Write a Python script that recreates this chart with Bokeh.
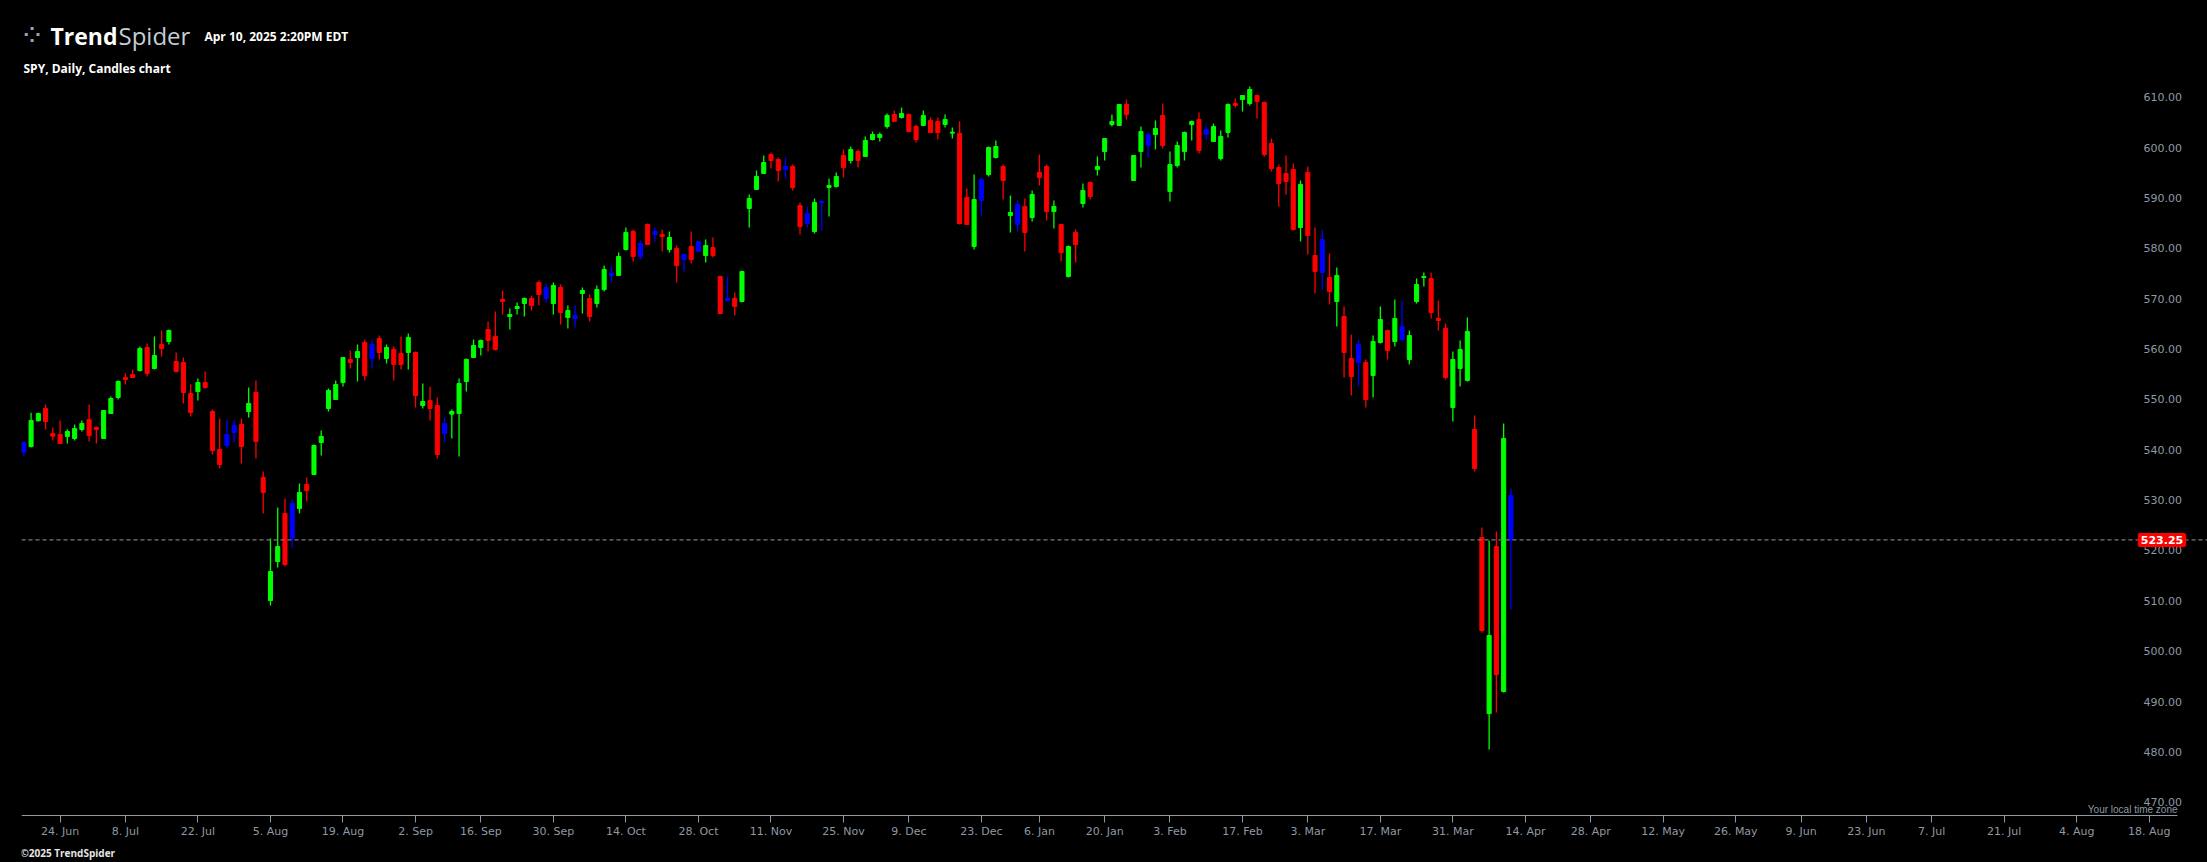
import numpy as np
import pandas as pd
from bokeh.plotting import figure
from bokeh.models import (Range1d, FixedTicker, Span, Label,
                          ColumnDataSource, GlobalInlineStyleSheet)
from bokeh.embed import file_html
from bokeh.resources import INLINE

# ---------------- data (SPY daily) ----------------
first_day = "2024-06-14"
holidays = ["2024-06-19", "2024-07-04", "2024-09-02", "2024-11-28", "2024-12-25",
            "2025-01-01", "2025-01-09", "2025-01-20", "2025-02-17", "2025-04-18",
            "2025-05-26", "2025-06-19", "2025-07-04"]

opens = [
    540.66, 541.80, 546.90, 549.34, 544.37,
    544.17, 543.78, 543.38, 545.17, 547.15,
    545.56, 543.38, 548.34, 551.52, 555.49,
    556.09, 556.88, 561.45, 557.28, 562.04,
    562.64, 558.67, 558.47, 552.31, 552.71,
    554.50, 548.74, 541.19, 541.99, 545.96,
    546.16, 548.74, 552.51, 535.63, 511.21,
    518.95, 528.49, 523.59, 529.48, 534.24,
    536.23, 542.58, 549.34, 551.12, 554.50,
    559.07, 559.46, 562.44, 559.26, 563.24,
    559.26, 561.05, 560.26, 560.46, 560.46,
    549.93, 550.92, 549.93, 544.37, 548.21,
    548.34, 554.70, 559.46, 561.45, 565.02,
    563.63, 570.98, 567.60, 569.19, 570.18,
    571.18, 574.35, 573.36, 570.18, 573.36,
    567.40, 567.21, 572.17, 571.18, 570.18,
    572.97, 575.75, 575.75, 580.91, 584.48,
    579.52, 585.87, 583.89, 583.89, 580.91,
    581.11, 579.92, 581.50, 582.50, 579.72,
    581.30, 575.55, 571.18, 571.18, 570.58,
    589.05, 592.82, 596.00, 599.77, 598.78,
    597.39, 597.39, 589.64, 586.07, 584.48,
    590.24, 593.22, 593.42, 599.57, 598.58,
    600.37, 599.38, 602.75, 603.15, 605.33,
    607.72, 607.12, 607.72, 605.33, 605.53,
    606.53, 606.33, 605.73, 604.01, 603.94,
    591.24, 581.50, 590.64, 595.80, 599.18,
    597.39, 587.66, 589.85, 589.45, 587.27,
    596.20, 597.39, 588.45, 585.87, 575.55,
    584.29, 590.04, 594.21, 596.80, 600.37,
    605.73, 605.53, 609.70, 594.61, 600.37,
    603.74, 603.74, 607.52, 592.43, 597.59,
    600.37, 605.73, 606.73, 603.74, 602.35,
    598.98, 604.14, 609.90, 610.70, 609.90,
    611.49, 610.10, 601.96, 597.19, 596.00,
    596.79, 585.28, 596.20, 579.72, 576.34,
    575.35, 570.58, 567.60, 559.26, 562.04,
    558.47, 555.89, 562.44, 564.82, 562.64,
    563.04, 559.07, 570.58, 575.35, 575.15,
    567.21, 565.22, 549.53, 557.28, 554.90,
    545.17, 523.72, 488.77, 521.93, 493.14,
    532.06]

highs = [
    542.80, 548.50, 548.50, 550.13, 545.56,
    546.95, 545.17, 546.16, 546.95, 550.13,
    545.76, 548.94, 551.72, 554.90, 556.29,
    557.08, 561.65, 562.24, 563.63, 564.82,
    565.02, 560.46, 559.46, 554.10, 555.29,
    556.68, 549.14, 547.35, 547.15, 546.95,
    547.35, 553.51, 554.90, 536.83, 523.52,
    529.68, 531.46, 531.27, 534.44, 535.63,
    542.19, 544.97, 553.31, 554.90, 559.46,
    560.85, 562.04, 563.04, 563.04, 563.83,
    562.04, 561.65, 563.63, 564.23, 560.65,
    554.30, 553.70, 551.52, 547.55, 549.14,
    555.29, 559.27, 563.04, 563.04, 566.61,
    568.59, 572.77, 569.19, 570.38, 571.37,
    571.77, 574.75, 574.16, 574.35, 573.96,
    569.79, 569.79, 573.36, 571.97, 573.76,
    577.73, 577.53, 580.31, 585.28, 584.88,
    582.70, 586.07, 585.28, 584.88, 584.48,
    581.70, 579.92, 584.48, 582.60, 582.89,
    583.29, 575.55, 575.55, 572.37, 576.74,
    591.83, 596.59, 599.57, 600.17, 599.18,
    599.18, 597.79, 590.24, 589.45, 591.04,
    590.84, 595.01, 596.20, 600.76, 601.36,
    600.76, 603.35, 604.34, 604.14, 607.92,
    608.51, 609.10, 607.91, 605.73, 608.51,
    607.12, 607.12, 607.72, 605.13, 606.33,
    593.02, 595.80, 595.21, 601.36, 602.55,
    597.79, 591.63, 590.64, 591.04, 592.63,
    599.77, 597.79, 590.64, 585.87, 581.70,
    584.88, 594.01, 594.41, 599.38, 602.95,
    607.72, 609.70, 610.70, 599.57, 605.33,
    604.14, 606.53, 609.90, 600.37, 602.36,
    604.34, 606.53, 608.11, 605.53, 605.93,
    604.54, 609.90, 610.89, 611.49, 613.28,
    611.69, 610.30, 602.95, 597.79, 599.57,
    597.99, 594.61, 597.39, 585.28, 584.88,
    580.11, 577.33, 569.59, 564.03, 563.04,
    559.07, 563.83, 569.59, 565.02, 570.98,
    570.58, 564.82, 575.15, 576.34, 576.34,
    570.78, 566.21, 560.65, 562.84, 567.41,
    547.95, 525.71, 523.12, 524.91, 546.36,
    533.45]

lows = [
    539.90, 541.60, 546.75, 545.17, 542.98,
    542.39, 542.39, 542.98, 544.77, 542.78,
    542.39, 543.38, 548.34, 551.12, 554.10,
    555.49, 556.68, 555.69, 557.08, 559.66,
    562.04, 556.48, 550.33, 547.75, 550.92,
    553.31, 540.20, 537.42, 541.39, 542.58,
    538.41, 547.55, 539.41, 528.49, 510.22,
    517.76, 517.96, 521.73, 528.49, 530.87,
    536.23, 540.00, 548.74, 551.12, 553.70,
    557.28, 554.70, 554.90, 557.28, 559.07,
    558.27, 554.90, 557.08, 557.08, 549.53,
    549.34, 546.95, 539.41, 542.58, 543.38,
    539.80, 552.71, 559.46, 559.86, 560.65,
    560.85, 568.00, 565.02, 568.00, 567.60,
    568.79, 569.79, 570.38, 567.99, 566.01,
    565.22, 565.42, 568.20, 566.61, 569.39,
    572.57, 574.35, 575.75, 580.71, 578.53,
    578.92, 581.90, 582.50, 580.51, 580.31,
    574.35, 576.54, 578.13, 580.40, 578.33,
    579.32, 568.20, 570.58, 567.80, 570.38,
    585.28, 592.82, 596.00, 596.99, 594.41,
    595.00, 592.63, 583.89, 585.28, 584.09,
    584.68, 587.46, 593.22, 595.20, 597.99,
    597.19, 599.38, 602.55, 602.35, 604.94,
    606.33, 606.92, 604.14, 602.15, 605.53,
    604.14, 602.75, 605.13, 602.95, 585.87,
    585.87, 580.91, 587.66, 595.40, 598.98,
    590.84, 584.29, 584.48, 580.51, 586.47,
    593.62, 586.67, 585.08, 578.53, 575.35,
    578.33, 589.25, 590.84, 595.60, 598.58,
    605.33, 605.53, 606.73, 594.61, 597.19,
    599.18, 600.77, 600.97, 590.44, 597.19,
    598.58, 602.55, 599.97, 602.75, 602.35,
    598.58, 603.15, 609.10, 608.31, 609.50,
    606.92, 599.38, 596.40, 589.45, 591.83,
    584.68, 582.50, 579.92, 572.17, 572.97,
    569.99, 565.62, 555.49, 551.92, 553.71,
    549.53, 551.52, 562.24, 559.07, 561.65,
    562.64, 558.07, 570.18, 573.56, 567.21,
    564.82, 555.09, 546.75, 553.70, 554.70,
    536.83, 504.86, 481.62, 488.97, 492.94,
    509.42]

closes = [
    542.58, 546.95, 548.34, 546.75, 543.84,
    542.39, 544.77, 545.36, 546.36, 543.97,
    545.17, 548.94, 551.32, 554.70, 555.09,
    555.49, 561.25, 556.29, 559.86, 561.25,
    564.82, 556.68, 552.51, 548.54, 554.50,
    553.51, 541.00, 538.22, 544.17, 544.57,
    541.79, 550.33, 542.78, 532.66, 516.97,
    521.93, 518.36, 530.47, 532.66, 533.05,
    541.99, 543.78, 552.91, 554.10, 559.46,
    558.47, 560.65, 555.89, 562.04, 560.46,
    561.45, 558.07, 558.07, 563.43, 551.92,
    550.73, 549.34, 540.20, 546.36, 548.74,
    554.30, 559.07, 561.85, 562.84, 562.84,
    561.05, 570.58, 568.00, 569.59, 571.18,
    569.79, 571.97, 571.18, 573.76, 568.40,
    568.79, 567.80, 572.77, 567.60, 572.97,
    576.94, 576.14, 579.52, 584.28, 579.52,
    582.10, 581.90, 584.48, 583.49, 583.29,
    577.73, 578.92, 578.92, 580.51, 581.70,
    579.72, 568.20, 570.78, 569.59, 576.54,
    591.03, 595.40, 598.18, 598.58, 596.59,
    596.79, 593.22, 585.47, 588.06, 590.24,
    590.44, 593.62, 595.40, 597.19, 600.76,
    598.58, 602.55, 603.74, 603.74, 607.52,
    606.33, 607.91, 604.34, 602.75, 607.52,
    604.14, 604.14, 606.73, 604.21, 586.07,
    585.87, 590.84, 594.81, 601.16, 601.36,
    594.61, 588.26, 585.87, 584.29, 591.83,
    595.21, 588.45, 589.45, 580.31, 581.50,
    581.90, 592.63, 591.43, 597.39, 602.95,
    606.33, 609.70, 607.72, 599.57, 604.34,
    601.56, 604.94, 601.56, 597.79, 601.56,
    604.14, 606.33, 600.57, 604.74, 605.33,
    603.35, 609.70, 609.50, 611.49, 612.68,
    610.30, 599.77, 596.99, 594.01, 594.41,
    584.88, 593.82, 583.69, 576.54, 582.89,
    572.57, 575.75, 560.46, 555.69, 558.47,
    551.12, 562.64, 567.01, 560.85, 567.21,
    565.62, 563.83, 573.96, 575.55, 568.40,
    566.81, 555.49, 559.07, 561.05, 564.63,
    537.42, 505.25, 504.26, 496.52, 543.38,
    523.25]

# candle colour class per bar as shown: g = green, r = red, b = blue
candle_class = ("bggrr" "rgggr" "rgggr" "rgrgr" "grrrg" "rrrbb" "rgrrg" "grbgr"
                "ggggg" "rgrbr" "grrgr" "grrbg" "ggggr" "rrggg" "rrbgr" "gbgrg"
                "gbggr" "brbrg" "rbrbg" "rrbrg" "gggrr" "brrbg" "bggrg" "rgggg"
                "rgrrg" "rrggr" "rgbgg" "rgbrg" "rrgrg" "rgrgg" "ggrgg" "bgrgg"
                "ggrbg" "ggrgg" "rrrrr" "rgrrb" "rgrrb" "rggrg" "bgggr" "rrggg"
                "rrgrg" "b")

last_price = 523.25

tick_dates = ["2024-06-24", "2024-07-08", "2024-07-22", "2024-08-05", "2024-08-19",
              "2024-09-02", "2024-09-16", "2024-09-30", "2024-10-14", "2024-10-28",
              "2024-11-11", "2024-11-25", "2024-12-09", "2024-12-23", "2025-01-06",
              "2025-01-20", "2025-02-03", "2025-02-17", "2025-03-03", "2025-03-17",
              "2025-03-31", "2025-04-14", "2025-04-28", "2025-05-12", "2025-05-26",
              "2025-06-09", "2025-06-23", "2025-07-07", "2025-07-21", "2025-08-04",
              "2025-08-18"]
tick_labels = ["24. Jun", "8. Jul", "22. Jul", "5. Aug", "19. Aug", "2. Sep", "16. Sep",
               "30. Sep", "14. Oct", "28. Oct", "11. Nov", "25. Nov", "9. Dec", "23. Dec",
               "6. Jan", "20. Jan", "3. Feb", "17. Feb", "3. Mar", "17. Mar", "31. Mar",
               "14. Apr", "28. Apr", "12. May", "26. May", "9. Jun", "23. Jun", "7. Jul",
               "21. Jul", "4. Aug", "18. Aug"]
price_ticks = [470, 480, 490, 500, 510, 520, 530, 540, 550, 560, 570, 580, 590, 600, 610]

# ---------------- build ----------------
days = pd.bdate_range(first_day, "2025-08-29", freq="C", holidays=holidays)
n = len(opens)
xs = np.arange(n)
palette = {"g": "#00ff00", "r": "#ff0000", "b": "#0000ff"}
cols = [palette[c] for c in candle_class]
src = ColumnDataSource(dict(
    x=xs, date=[d.strftime("%Y-%m-%d") for d in days[:n]],
    open=opens, high=highs, low=lows, close=closes,
    top=np.maximum(opens, closes), bottom=np.minimum(opens, closes), color=cols))

tick_pos = days.searchsorted(pd.to_datetime(tick_dates))

AXIS_GREY = "#8e99a4"
X_START, X_AXIS_END, X_END = -0.32, 296.89, 301.03
Y_START, Y_AXIS, Y_END = 459.19, 468.52, 630.35
p = figure(width=2207, height=862, output_backend="svg", toolbar_location=None,
           title=None, y_axis_location="right",
           x_range=Range1d(X_START, X_END), y_range=Range1d(Y_START, Y_END),
           min_border_left=21, min_border_right=0, min_border_top=0, min_border_bottom=0)
p.background_fill_color = "#000000"
p.border_fill_color = "#000000"
p.outline_line_color = None
p.grid.visible = False
p.stylesheets = [GlobalInlineStyleSheet(css="html, body { background-color: #000000; }")]

p.segment(x0="x", y0="low", x1="x", y1="high", source=src, line_color="color", line_width=1.3)
p.vbar(x="x", width=0.56, top="top", bottom="bottom", source=src,
       fill_color="color", line_color="color", line_width=1)

p.add_layout(Span(location=last_price, dimension="width", line_color="#7a7a7a",
                  line_dash="4 3", line_width=1.2))

# x axis (drawn at the bottom of the price pane)
xa = p.xaxis[0]
xa.axis_label = None
xa.fixed_location = Y_AXIS
xa.ticker = FixedTicker(ticks=[int(t) for t in tick_pos])
xa.major_label_overrides = {int(t): lab for t, lab in zip(tick_pos, tick_labels)}
xa.bounds = (X_START, X_AXIS_END)
xa.axis_line_color = AXIS_GREY
xa.major_tick_line_color = AXIS_GREY
xa.major_tick_out = 7
xa.major_tick_in = 0
xa.minor_tick_line_color = None
xa.major_label_text_color = AXIS_GREY
xa.major_label_text_font = "DejaVu Sans"
xa.major_label_text_font_size = "11px"
xa.major_label_standoff = 2

# y axis: labels on the right inside the pane; like the original, each
# label sits slightly above its price level (about 1.15 price units)
LABEL_LIFT = 1.15
ya = p.yaxis[0]
ya.axis_label = None
ya.fixed_location = X_AXIS_END
label_ticks = [v + LABEL_LIFT for v in price_ticks]
ya.ticker = FixedTicker(ticks=label_ticks)
ya.major_label_overrides = {t: f"{v:.2f}" for t, v in zip(label_ticks, price_ticks)}
ya.axis_line_color = None
ya.major_tick_line_color = None
ya.minor_tick_line_color = None
ya.major_tick_out = 0
ya.major_tick_in = 0
ya.major_label_standoff = -34
ya.major_label_text_color = AXIS_GREY
ya.major_label_text_font = "DejaVu Sans"
ya.major_label_text_font_size = "11px"

# last price tag
p.add_layout(Label(x=2140.5, x_units="screen", y=last_price, y_units="data",
                   text=f"{last_price:.2f}", text_align="center", text_baseline="middle",
                   text_color="#ffffff", text_font="DejaVu Sans", text_font_style="bold",
                   text_font_size="11px", background_fill_color="#ff0000",
                   padding=3, border_radius=2))

# header / footer texts (positions relative to the pane's bottom-left corner)
def scr_label(x, y, text, size, color, font="Open Sans", style="normal", align="left"):
    p.add_layout(Label(x=x, y=y, x_units="screen", y_units="screen", text=text,
                       text_font=font, text_font_size=size, text_color=color,
                       text_font_style=style, text_align=align, text_baseline="middle"))

scr_label(-2, 827, "\u2058", "30px", "#9aa5b0", font="DejaVu Sans")
scr_label(29, 827, "Trend", "23px", "#ffffff", style="bold")
scr_label(97, 827, "Spider", "24px", "#c4cdd6")
scr_label(183, 826, "Apr 10, 2025 2:20PM EDT", "12px", "#ffffff", style="bold")
scr_label(2, 794, "SPY, Daily, Candles chart", "12px", "#ffffff", style="bold")
scr_label(2156, 52.7, "Your local time zone", "10px", AXIS_GREY, font="Liberation Sans", align="right")
scr_label(-1, 9.5, "\u00a92025 TrendSpider", "10px", "#e6e6e6", style="bold")

open("out.html", "w").write(file_html(p, INLINE))
